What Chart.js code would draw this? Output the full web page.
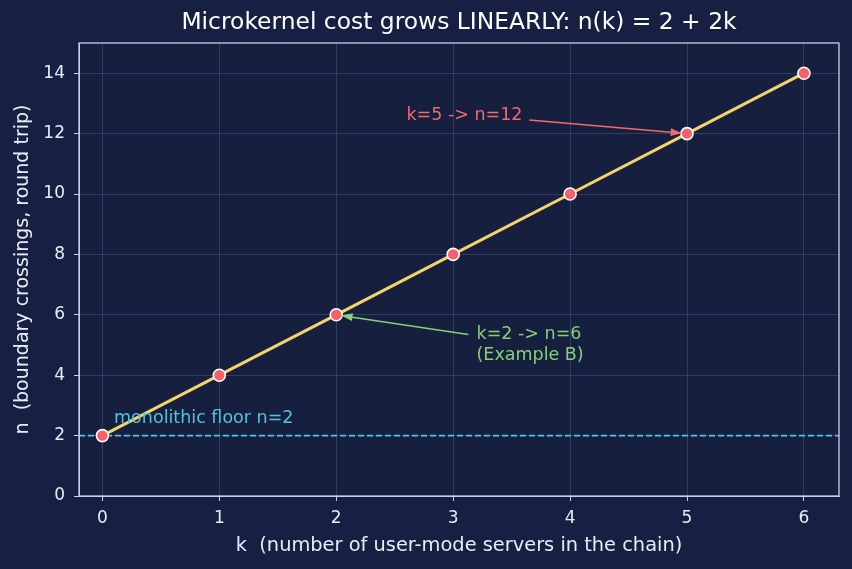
<!DOCTYPE html>
<html>
<head>
<meta charset="utf-8">
<script src="https://cdn.jsdelivr.net/npm/chart.js@4"></script>
<style>
  html, body { margin: 0; padding: 0; background: #172042; }
  #wrap { width: 852px; height: 569px; }
</style>
</head>
<body>
<div id="wrap"><canvas id="chart1" width="852" height="569"></canvas></div>
<script>
// data
const kValues = [0, 1, 2, 3, 4, 5, 6];
const nValues = [2, 4, 6, 8, 10, 12, 14];
const yTicks = [0, 2, 4, 6, 8, 10, 12, 14];
const floorN = 2;
const titleText = 'Microkernel cost grows LINEARLY: n(k) = 2 + 2k';

// annotation text anchors and arrows, in data units
const notes = [
    { lines: ["k=5 -> n=12"], tx: 2.6, ty: 12.6, fx: 3.65, fy: 12.45, px: 5, py: 12, color: '#f06a6e' },
    { lines: ["k=2 -> n=6", "(Example B)"], tx: 3.2, ty: 5.35, fx: 3.13, fy: 5.35, px: 2, py: 6, color: '#86d07a' },
    { lines: ["monolithic floor n=2"], tx: 0.1, ty: 2.58, color: '#52c3dc' }
];

const bg = '#172042';
const plotBg = '#161f3e';
const fg = '#e8ecf4';
const axisCol = '#c9d2e3';
const gridCol = 'rgba(120,140,190,0.28)';

const decor = {
    id: 'decor',
    beforeDraw(chart) {
        const c = chart.ctx, a = chart.chartArea;
        c.save();
        c.fillStyle = bg;
        c.fillRect(0, 0, chart.width, chart.height);
        c.fillStyle = plotBg;
        c.fillRect(a.left, a.top, a.right - a.left, a.bottom - a.top);
        c.restore();
    },
    beforeDatasetsDraw(chart) {
        const c = chart.ctx, a = chart.chartArea, ys = chart.scales.y;
        const yy = ys.getPixelForValue(floorN);
        c.save();
        c.strokeStyle = '#4cc4e8';
        c.lineWidth = 1.6;
        c.setLineDash([6, 3]);
        c.beginPath();
        c.moveTo(a.left, yy);
        c.lineTo(a.right, yy);
        c.stroke();
        c.restore();
    },
    afterDraw(chart) {
        const c = chart.ctx, a = chart.chartArea;
        const xs = chart.scales.x, ys = chart.scales.y;
        c.save();
        c.strokeStyle = axisCol;
        c.lineWidth = 1.3;
        c.strokeRect(a.left, a.top, a.right - a.left, a.bottom - a.top);
        // title, centred over the plot area
        c.fillStyle = '#ffffff';
        c.font = '23.4px "DejaVu Sans"';
        c.textAlign = 'center';
        c.textBaseline = 'middle';
        c.fillText(titleText, (a.left + a.right) / 2, 23);
        c.font = '17.5px "DejaVu Sans"';
        c.textAlign = 'left';
        notes.forEach(nt => {
            c.fillStyle = nt.color;
            const x0 = xs.getPixelForValue(nt.tx), y0 = ys.getPixelForValue(nt.ty);
            nt.lines.forEach((s, i) => c.fillText(s, x0, y0 + i * 21));
            if (nt.fx === undefined) return;
            const x1 = xs.getPixelForValue(nt.fx), y1 = ys.getPixelForValue(nt.fy);
            let x2 = xs.getPixelForValue(nt.px), y2 = ys.getPixelForValue(nt.py);
            const ang = Math.atan2(y2 - y1, x2 - x1);
            x2 -= Math.cos(ang) * 5; y2 -= Math.sin(ang) * 5;
            c.strokeStyle = nt.color;
            c.lineWidth = 1.6;
            c.beginPath();
            c.moveTo(x1, y1);
            c.lineTo(x2 - Math.cos(ang) * 8, y2 - Math.sin(ang) * 8);
            c.stroke();
            c.beginPath();
            c.moveTo(x2, y2);
            c.lineTo(x2 - Math.cos(ang - 0.33) * 12, y2 - Math.sin(ang - 0.33) * 12);
            c.lineTo(x2 - Math.cos(ang + 0.33) * 12, y2 - Math.sin(ang + 0.33) * 12);
            c.closePath();
            c.fillStyle = nt.color;
            c.fill();
        });
        c.restore();
    }
};

const config = {
    type: 'line',
    data: {
        datasets: [{
            label: 'n(k)',
            data: kValues.map((k, i) => ({ x: k, y: nValues[i] })),
            borderColor: '#f2d46a',
            borderWidth: 3,
            pointRadius: 6,
            pointHoverRadius: 6,
            pointBackgroundColor: '#f5606a',
            pointBorderColor: '#ffffff',
            pointBorderWidth: 1.6,
            tension: 0
        }]
    },
    options: {
        responsive: false,
        animation: false,
        layout: { padding: { left: 0, right: 13, top: 43, bottom: 0 } },
        plugins: {
            legend: { display: false },
            tooltip: { enabled: false },
            title: { display: false }
        },
        scales: {
            x: {
                type: 'linear',
                min: -0.2,
                max: 6.3,
                afterBuildTicks: s => { s.ticks = kValues.map(v => ({ value: v })); },
                afterFit: s => { s.height = 73; },
                ticks: { color: fg, font: { family: 'DejaVu Sans', size: 17 }, padding: 7 },
                grid: { color: gridCol, tickColor: axisCol, tickLength: 5, lineWidth: 1 },
                border: { color: axisCol },
                title: {
                    display: true,
                    text: 'k  (number of user-mode servers in the chain)',
                    color: fg,
                    font: { family: 'DejaVu Sans', size: 19.4 },
                    padding: { top: 11, bottom: 11 }
                }
            },
            y: {
                min: 0,
                max: 15,
                afterBuildTicks: s => { s.ticks = yTicks.map(v => ({ value: v })); },
                afterFit: s => { s.width = 79; },
                ticks: { color: fg, font: { family: 'DejaVu Sans', size: 17 }, padding: 9 },
                grid: { color: gridCol, tickColor: axisCol, tickLength: 5, lineWidth: 1 },
                border: { color: axisCol },
                title: {
                    display: true,
                    text: 'n  (boundary crossings, round trip)',
                    color: fg,
                    font: { family: 'DejaVu Sans', size: 19 },
                    padding: { top: 12, bottom: 12 }
                }
            }
        }
    },
    plugins: [decor]
};

const ctx1 = document.getElementById('chart1').getContext('2d');
const chart1 = new Chart(ctx1, config);
</script>
</body>
</html>
